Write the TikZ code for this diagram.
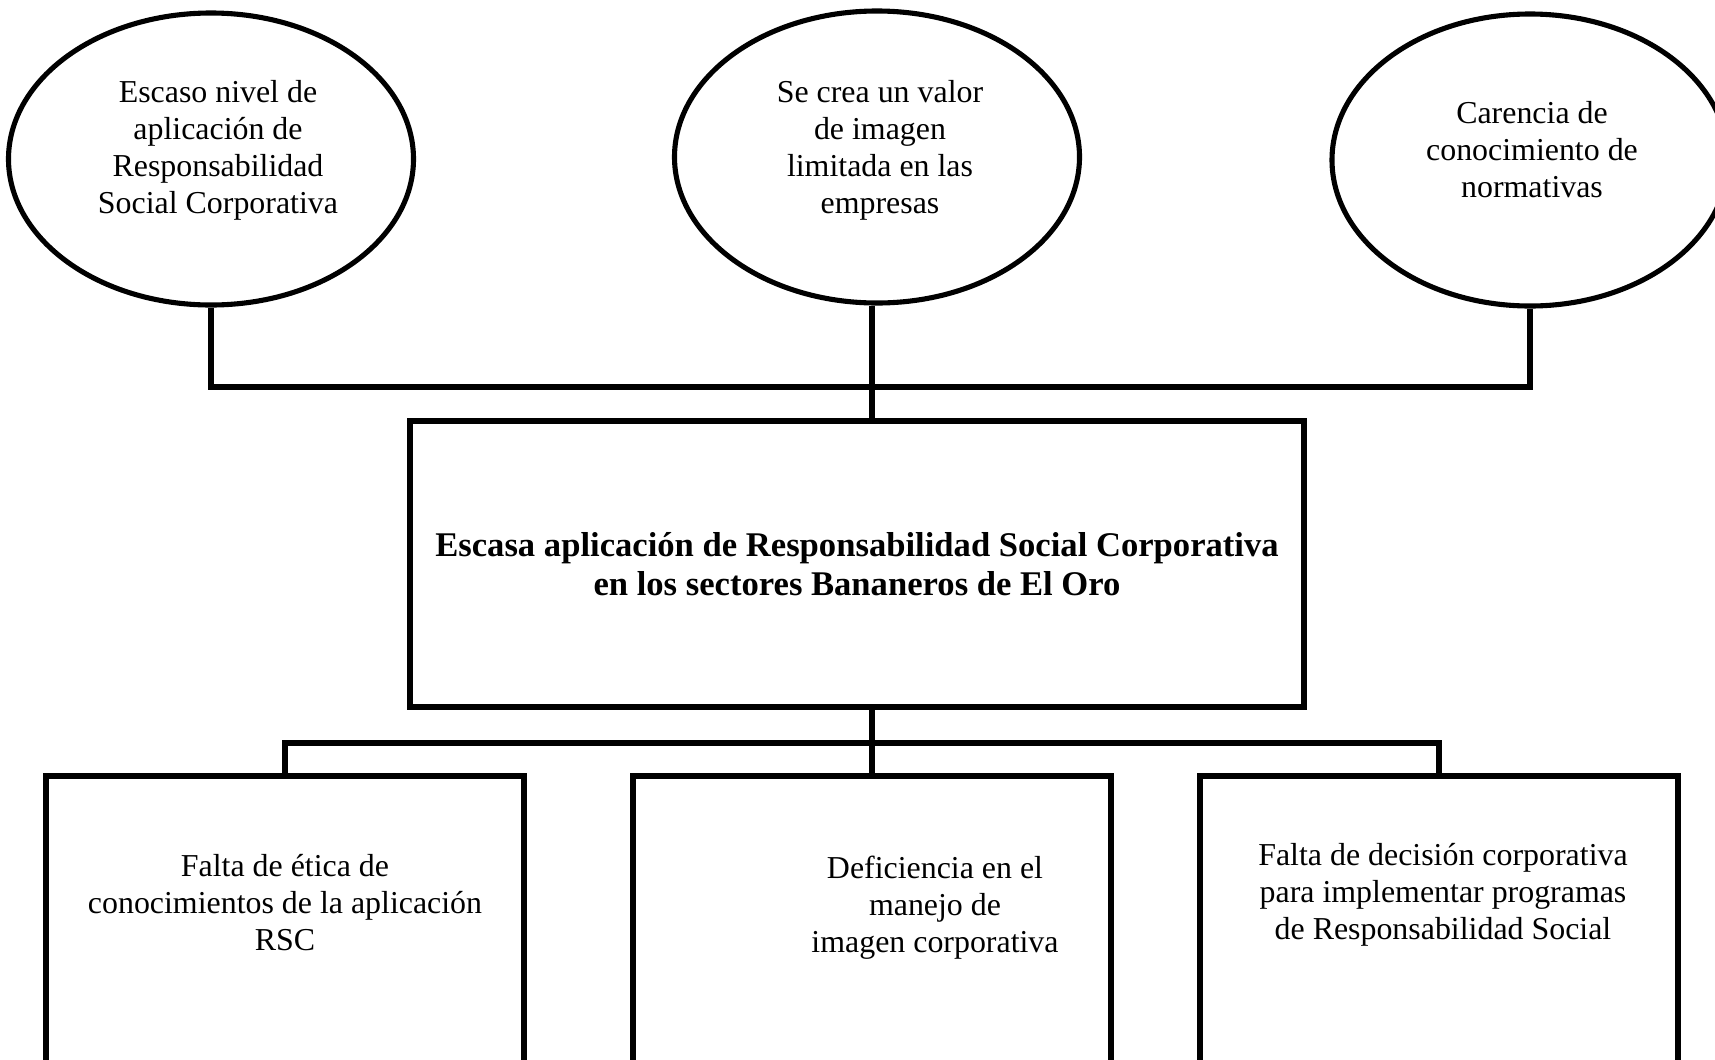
\documentclass[tikz,border=0pt]{standalone}
\usepackage{fontspec}
\setmainfont{Liberation Serif}
\usepackage{tikz}
\usetikzlibrary{shapes.geometric}

\begin{document}
\begin{tikzpicture}[scale=0.2, line width=2.9pt,
  causa/.style={draw, ellipse, minimum width=8.1cm, minimum height=5.84cm},
  caja/.style={draw, rectangle, minimum width=9.56cm, minimum height=6cm},
  texto/.style={align=center, inner sep=0pt, font=\fontsize{18.15}{21.05}\selectfont}]
\useasboundingbox (0,0) rectangle (171.5,-105.9);
\clip (0,0) rectangle (171.5,-105.9);
% causas (arriba)
\node [causa] (e1) at (21.1,-15.9) {};
\node [causa] (e2) at (87.7,-15.7) {};
\node [causa, minimum width=7.92cm] (e3) at (153.0,-16.0) {};
\node [texto] (t1) at (21.8,-15.0) {Escaso nivel de\\aplicación de\\Responsabilidad\\Social Corporativa};
\node [texto] (t2) at (88.0,-15.0) {Se crea un valor\\de imagen\\limitada en las\\empresas};
\node [texto] (t3) at (153.2,-15.0) {Carencia de\\conocimiento de\\normativas};
% problema central
\node [draw, minimum width=17.88cm, minimum height=5.72cm, align=center,
  font=\fontsize{19.7}{22.2}\selectfont\bfseries] (prob) at (85.7,-56.4)
  {Escasa aplicación de Responsabilidad Social Corporativa\\en los sectores Bananeros de El Oro};
% efectos (abajo)
\node [caja] (b1) at (28.5,-92.6) {};
\node [caja] (b2) at (87.2,-92.6) {};
\node [caja] (b3) at (143.9,-92.6) {};
\node [texto] (tb1) at (28.5,-90.3) {Falta de ética de\\conocimientos de la aplicación\\RSC};
\node [texto] (tb2) at (93.5,-90.8) {Deficiencia en el\\manejo de\hspace*{1em}\\imagen corporativa};
\node [texto] (tb3) at (144.3,-89.5) {Falta de decisión corporativa\\para implementar programas\\de Responsabilidad Social};
% conectores
\coordinate (bus1) at (0,-38.7);
\coordinate (bus2) at (0,-74.3);
\draw (e1.south) -- (e1.south |- bus1) -- (e3.south |- bus1) -- (e3.south);
\draw (b2.north |- e2.south) -- (b2.north |- prob.north);
\draw (b2.north) -- (b2.north |- prob.south);
\draw (b1.north) -- (b1.north |- bus2) -- (b3.north |- bus2) -- (b3.north);
\end{tikzpicture}
\end{document}
